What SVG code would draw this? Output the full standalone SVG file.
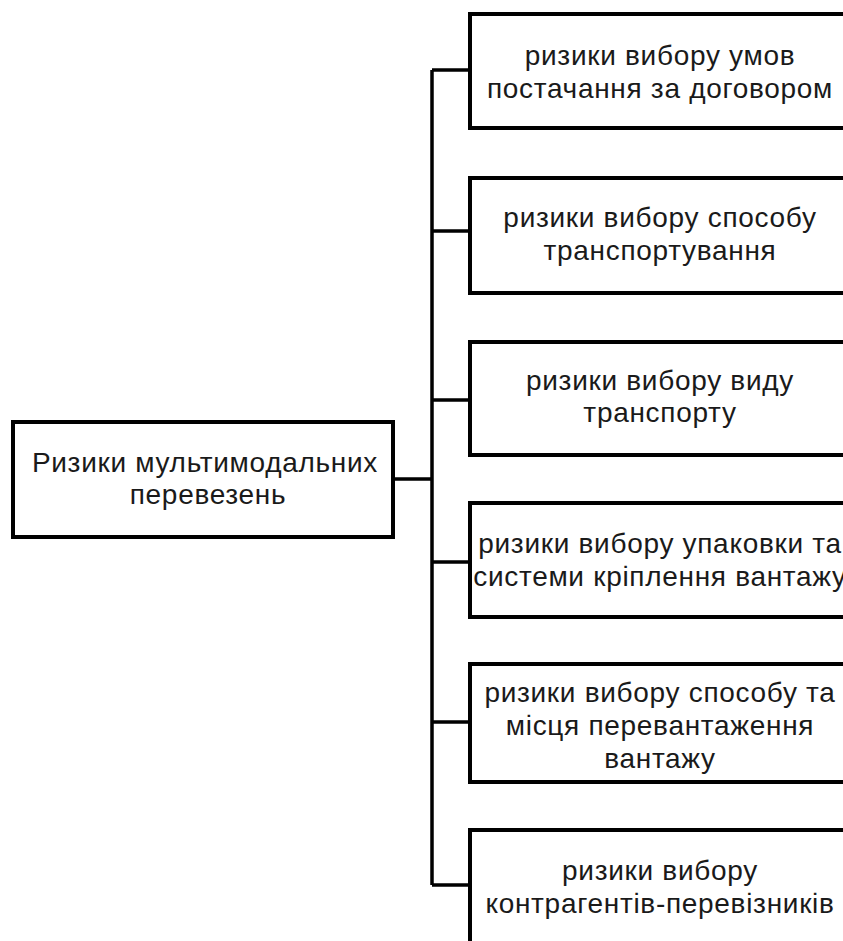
<svg xmlns="http://www.w3.org/2000/svg" width="843" height="941" viewBox="0 0 843 941">
<style>
.box{fill:#fff;stroke:#000;stroke-width:4}
.con{fill:none;stroke:#000;stroke-width:3.5}
text{font-family:"Liberation Sans","Open Sans",sans-serif;font-size:28px;letter-spacing:0.7px;fill:#1a1a1a;text-anchor:middle}
</style>
<rect width="843" height="941" fill="#fff"/>
<g id="connectors">
<path class="con" d="M393 479H432M432 70V885M432 70H470M432 231H470M432 400H470M432 562H470M432 722H470M432 885H470"/>
</g>
<g id="root">
<rect class="box" x="13" y="422" width="380" height="115"/>
<text x="205" y="472">Ризики мультимодальних</text>
<text x="208" y="504">перевезень</text>
</g>
<g id="n1">
<rect class="box" x="470" y="14" width="380" height="114"/>
<text x="660" y="65">ризики вибору умов</text>
<text x="660" y="98">постачання за договором</text>
</g>
<g id="n2">
<rect class="box" x="470" y="178" width="380" height="115"/>
<text x="660" y="227">ризики вибору способу</text>
<text x="660" y="260">транспортування</text>
</g>
<g id="n3">
<rect class="box" x="470" y="342" width="380" height="113"/>
<text x="660" y="390">ризики вибору виду</text>
<text x="660" y="422">транспорту</text>
</g>
<g id="n4">
<rect class="box" x="470" y="503" width="380" height="114"/>
<text x="660" y="553">ризики вибору упаковки та</text>
<text x="660" y="586">системи кріплення вантажу</text>
</g>
<g id="n5">
<rect class="box" x="470" y="664" width="380" height="118"/>
<text x="660" y="702">ризики вибору способу та</text>
<text x="660" y="735">місця перевантаження</text>
<text x="660" y="768">вантажу</text>
</g>
<g id="n6">
<rect class="box" x="470" y="830" width="380" height="140"/>
<text x="660" y="880">ризики вибору</text>
<text x="660" y="913">контрагентів-перевізників</text>
</g>
</svg>
